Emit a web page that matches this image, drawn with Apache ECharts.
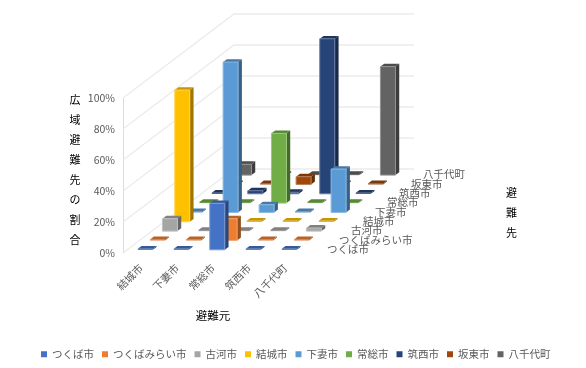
<!DOCTYPE html>
<html>
<head>
<meta charset="utf-8">
<script src="https://cdn.jsdelivr.net/npm/echarts@6/dist/echarts.min.js"></script>
<style>
  html, body { margin: 0; padding: 0; background: #fff; }
  #chart { width: 586px; height: 368px; }
</style>
</head>
<body>
<div id="chart"></div>
<script>
const originCities = ['結城市', '下妻市', '常総市', '筑西市', '八千代町']
const destCities = ['つくば市', 'つくばみらい市', '古河市', '結城市', '下妻市', '常総市', '筑西市', '坂東市', '八千代町']
const yTicks = [0, 20, 40, 60, 80, 100]

// 広域避難先の割合 (%), one array per destination, same order as originCities
const tsukuba = [0, 0, 30, 0, 0]
const tsukubamirai = [0, 0, 14, 0, 0]
const koga = [8, 0, 0, 0, 2]
const yuki = [85, 0, 0, 0, 0]
const shimotsuma = [0, 97, 5, 0, 28]
const joso = [0, 0, 45, 0, 0]
const chikusei = [0, 2, 1, 100, 0]
const bando = [0, 0, 5, 0, 0]
const yachiyo = [7, 0, 0, 0, 70]
const seriesValues = [tsukuba, tsukubamirai, koga, yuki, shimotsuma, joso, chikusei, bando, yachiyo]

const colors = ['#4472C4', '#ED7D31', '#A5A5A5', '#FFC000', '#5B9BD5', '#70AD47', '#264478', '#9E480E', '#636363']

const font = '"Noto Sans CJK JP", "Noto Sans", sans-serif'
const wallDx = 111
const wallDy = 84
const stepDx = wallDx / destCities.length
const stepDy = wallDy / destCities.length
const barDx = 3.8
const barDy = 2.9

const shade = (hex, k) => {
  const n = parseInt(hex.slice(1), 16)
  const c = [n >> 16, (n >> 8) & 255, n & 255].map(v => Math.round(v * k))
  return `rgb(${c[0]},${c[1]},${c[2]})`
}
const tint = (hex, k) => {
  const n = parseInt(hex.slice(1), 16)
  const c = [n >> 16, (n >> 8) & 255, n & 255].map(v => Math.round(v + (255 - v) * k))
  return `rgb(${c[0]},${c[1]},${c[2]})`
}

// oblique 3D bar: front, side, top faces
const barRenderer = depthIndex => (params, api) => {
  const base = api.coord([api.value(0), 0])
  const top = api.coord([api.value(0), api.value(1)])
  const color = colors[depthIndex]
  const halfW = 7.5
  const cx = base[0] + stepDx * (depthIndex + 0.5) - barDx / 2
  const by = base[1] - stepDy * (depthIndex + 0.5) + barDy / 2
  const ty = Math.min(top[1] - stepDy * (depthIndex + 0.5) + barDy / 2, by - 1)
  const l = cx - halfW
  const r = cx + halfW
  const flat = api.value(1) === 0
  const children = [
    {
      type: 'polygon',
      shape: { points: [[r, ty], [r + barDx, ty - barDy], [r + barDx, by - barDy], [r, by]] },
      style: { fill: shade(color, 0.62) }
    },
    {
      type: 'polygon',
      shape: { points: [[l, ty], [r, ty], [r + barDx, ty - barDy], [l + barDx, ty - barDy]] },
      style: { fill: shade(color, 0.78) }
    }
  ]
  if (!flat) {
    children.push({
      type: 'rect',
      shape: { x: l, y: ty, width: r - l, height: by - ty },
      style: { fill: color, stroke: tint(color, 0.3), lineWidth: 1 }
    })
  } else {
    children.push({
      type: 'rect',
      shape: { x: l, y: ty, width: r - l, height: by - ty },
      style: { fill: shade(color, 0.85) }
    })
  }
  return { type: 'group', children }
}

const wallRenderer = (params, api) => {
  const p = api.coord([0, api.value(0)])
  const cw = api.size([1, 0])[0]
  const x0 = p[0] - cw / 2
  return {
    type: 'polyline',
    shape: { points: [[x0, p[1]], [x0 + wallDx, p[1] - wallDy], [x0 + wallDx + cw * originCities.length, p[1] - wallDy]] },
    style: { fill: null, stroke: '#ececec', lineWidth: 1.3 }
  }
}

const depthLabelRenderer = (params, api) => {
  const i = params.dataIndex
  const p = api.coord([originCities.length - 1, 0])
  const cw = api.size([1, 0])[0]
  return {
    type: 'text',
    style: {
      x: p[0] + cw / 2 + 24 + 12 * i,
      y: p[1] - 4 - stepDy * i,
      text: destCities[i],
      fill: '#595959',
      font: '10.5px ' + font,
      textAlign: 'left',
      textVerticalAlign: 'middle'
    }
  }
}

const chart = echarts.init(document.getElementById('chart'), null, { renderer: 'canvas' })

const series = [
  {
    name: 'walls',
    type: 'custom',
    silent: true,
    z: 1,
    data: yTicks.map(v => [v]),
    encode: { y: 0 },
    renderItem: wallRenderer
  },
  {
    name: 'depthAxis',
    type: 'custom',
    silent: true,
    z: 1,
    data: destCities.map((d, i) => [i]),
    encode: { x: 0 },
    renderItem: depthLabelRenderer
  }
]
destCities.forEach((name, d) => {
  series.push({
    name,
    type: 'custom',
    z: 20 - d,
    itemStyle: { color: colors[d] },
    data: seriesValues[d].map((v, c) => [c, v]),
    encode: { x: 0, y: 1 },
    renderItem: barRenderer(d)
  })
})

chart.setOption({
  animation: false,
  backgroundColor: '#fff',
  textStyle: { fontFamily: font },
  grid: { left: 123, top: 98, width: 180, height: 155 },
  legend: {
    data: destCities.map(name => ({ name, icon: 'rect' })),
    left: 36,
    top: 344,
    itemWidth: 6,
    itemHeight: 6,
    itemGap: 8,
    textStyle: { color: '#595959', fontSize: 10.5, fontFamily: font }
  },
  xAxis: {
    type: 'category',
    data: originCities,
    axisLine: { show: false },
    axisTick: { show: false },
    axisLabel: { rotate: 45, interval: 0, fontSize: 10.5, color: '#595959', margin: 13, fontFamily: font },
    name: '避難元',
    nameLocation: 'middle',
    nameGap: 57,
    nameTextStyle: { color: '#000', fontSize: 11.5, fontFamily: font }
  },
  yAxis: {
    type: 'value',
    min: 0,
    max: 100,
    interval: 20,
    axisLine: { show: true, lineStyle: { color: '#d6dcea', width: 1 } },
    axisTick: { show: false },
    splitLine: { show: false },
    axisLabel: { formatter: '{value}%', fontSize: 10.5, color: '#595959', margin: 8, fontFamily: font }
  },
  graphic: [
    {
      type: 'text',
      left: 69.5,
      top: 90,
      style: { text: '広域避難先の割合'.split('').join('\n'), fill: '#000', font: '11px ' + font, lineHeight: 20 }
    },
    {
      type: 'text',
      left: 506,
      top: 183,
      style: { text: '避\n難\n先', fill: '#000', font: '11px ' + font, lineHeight: 20 }
    }
  ],
  series
})
</script>
</body>
</html>
